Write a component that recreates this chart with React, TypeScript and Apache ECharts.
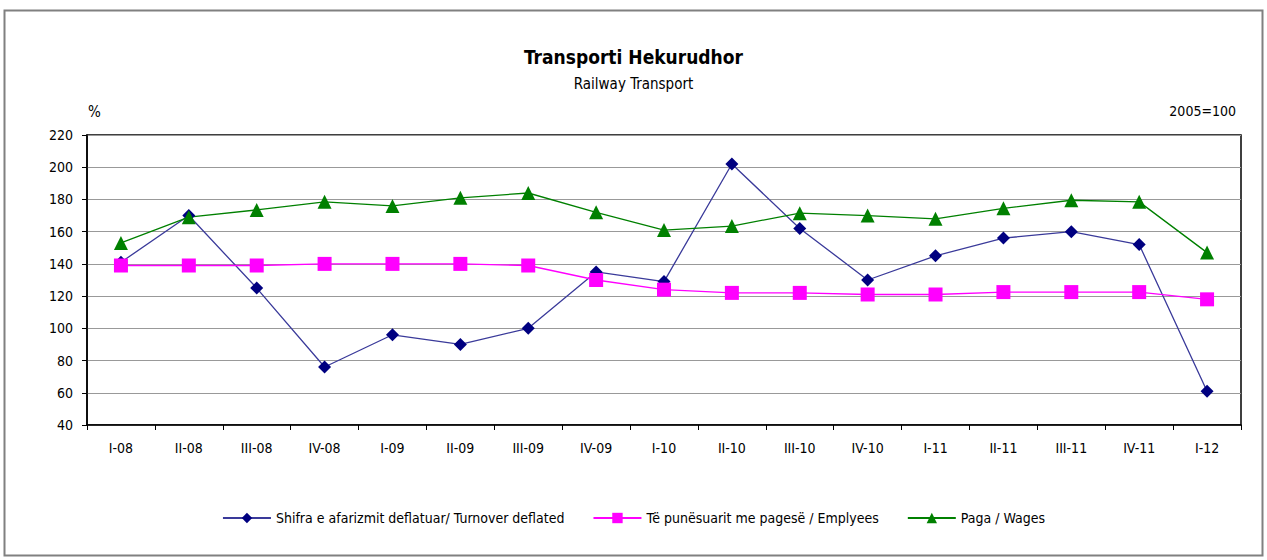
import React, { useEffect, useRef } from "react";
import * as echarts from "echarts";

const categories = ["I-08","II-08","III-08","IV-08","I-09","II-09","III-09","IV-09","I-10","II-10","III-10","IV-10","I-11","II-11","III-11","IV-11","I-12"];
const turnover = [141,170,125,76,96,90,100,135,129,202,162,130,145,156,160,152,61];
const employees = [139,139,139,140,140,140,139,130,124,122,122,121,121,122.5,122.5,122.5,118];
const wages = [153,169,173.5,178.5,176,181,184,172,161,163.5,171.5,170,168,174.5,179.5,178.5,147];
const yTicks = { min: 40, max: 220, interval: 20 };

const FONT = "'Liberation Sans Narrow', 'DejaVu Sans Condensed', 'Liberation Sans', Arial, sans-serif";

export default function App() {
  const ref = useRef<HTMLDivElement>(null);
  useEffect(() => {
    if (!ref.current) return;
    const chart = echarts.init(ref.current, null, { renderer: "svg" });
    chart.setOption({
      animation: false,
      backgroundColor: "#fff",
      textStyle: { fontFamily: FONT, color: "#000" },
      graphic: [
        { type: "rect", shape: { x: 4.5, y: 10.5, width: 1258, height: 545 }, style: { fill: "none", stroke: "#808080", lineWidth: 2 }, silent: true },
        { type: "text", left: "center", top: 47, style: { text: "Transporti Hekurudhor", font: `bold 19px ${FONT}`, fill: "#000" } },
        { type: "text", left: "center", top: 76, style: { text: "Railway Transport", font: `15px ${FONT}`, fill: "#000" } },
        { type: "text", x: 88, y: 104, style: { text: "%", font: `15px ${FONT}`, fill: "#000" } },
        { type: "text", x: 1236, y: 104, style: { text: "2005=100", font: `14px ${FONT}`, fill: "#000", align: "right" } },
      ],
      grid: { left: 87, right: 26, top: 135, bottom: 135, show: true, borderColor: "#000", borderWidth: 1.5, backgroundColor: "#fff" },
      legend: {
        bottom: 30, left: "center",
        itemWidth: 48, itemHeight: 13, itemGap: 28,
        textStyle: { fontFamily: FONT, fontSize: 14, color: "#000" },
        data: ["Shifra e afarizmit deflatuar/ Turnover deflated", "Të punësuarit me pagesë / Emplyees", "Paga / Wages"],
      },
      xAxis: {
        type: "category",
        data: categories,
        boundaryGap: true,
        axisLine: { lineStyle: { color: "#000", width: 1.5 } },
        axisTick: { show: true, length: 5, inside: false, alignWithLabel: false, lineStyle: { color: "#000" } },
        axisLabel: { fontFamily: FONT, fontSize: 14, color: "#000", margin: 16, interval: 0 },
        splitLine: { show: false },
      },
      yAxis: {
        type: "value",
        min: yTicks.min, max: yTicks.max, interval: yTicks.interval,
        axisLine: { show: true, lineStyle: { color: "#000", width: 1.5 } },
        axisTick: { show: true, length: 5, lineStyle: { color: "#000" } },
        axisLabel: { fontFamily: FONT, fontSize: 14, color: "#000", margin: 14 },
        splitLine: { show: true, lineStyle: { color: "#999", width: 1.2 } },
      },
      series: [
        {
          name: "Shifra e afarizmit deflatuar/ Turnover deflated",
          type: "line", data: turnover,
          symbol: "diamond", symbolSize: 13,
          lineStyle: { color: "#3a3a9a", width: 1.3 },
          itemStyle: { color: "#000080" },
        },
        {
          name: "Të punësuarit me pagesë / Emplyees",
          type: "line", data: employees,
          symbol: "rect", symbolSize: 14,
          lineStyle: { color: "#ff00ff", width: 1.3 },
          itemStyle: { color: "#ff00ff" },
        },
        {
          name: "Paga / Wages",
          type: "line", data: wages,
          symbol: "triangle", symbolSize: 14,
          lineStyle: { color: "#008000", width: 1.3 },
          itemStyle: { color: "#008000" },
        },
      ],
    });
    return () => chart.dispose();
  }, []);
  return <div ref={ref} style={{ width: 1267, height: 560, position: "absolute", left: 0, top: 0 }} />;
}
